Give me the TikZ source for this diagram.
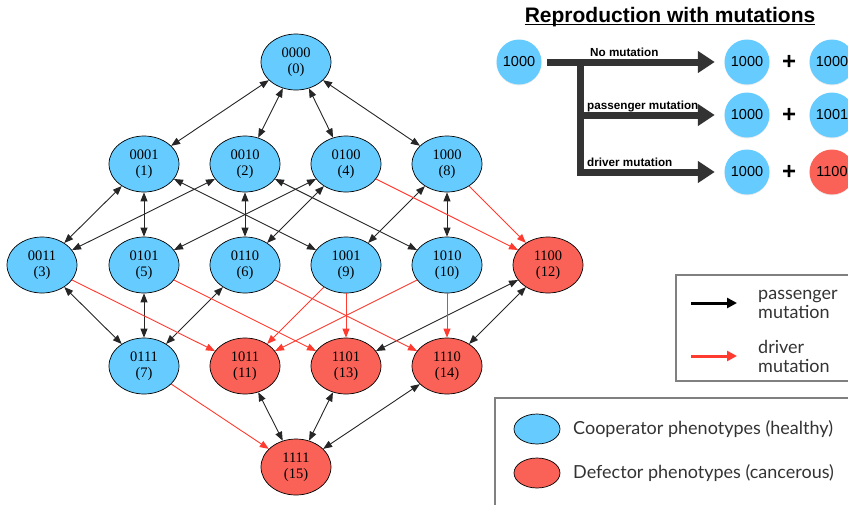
\documentclass[tikz,border=0pt]{standalone}
\usepackage{fontspec}
\setmainfont{Liberation Serif}
\newfontfamily\helv{Liberation Sans}
\newfontfamily\lato{Lato}
\usetikzlibrary{arrows.meta,shapes.geometric,shadows}
\definecolor{cblue}{HTML}{66CCFF}
\definecolor{cred}{HTML}{FA6157}
\definecolor{edgeblack}{HTML}{262626}
\definecolor{edgered}{HTML}{FF3B30}
\definecolor{bigarrowcol}{HTML}{333333}
\definecolor{boxgray}{HTML}{808080}
\definecolor{txtgray}{HTML}{333333}
\begin{document}
\begin{tikzpicture}[x=1pt,y=-1pt,
  gnode/.style={ellipse, draw=black, line width=0.7pt, minimum width=70pt, minimum height=56pt,
    inner sep=0pt, align=center, font=\fontsize{14.5}{16.5}\selectfont},
  coop/.style={gnode, fill=cblue},
  defe/.style={gnode, fill=cred},
  pas/.style={draw=edgeblack, line width=0.9pt, {Triangle[length=9pt,width=7pt]}-{Triangle[length=9pt,width=7pt]}},
  drv/.style={draw=edgered, line width=0.9pt, -{Triangle[length=9pt,width=7pt]}},
  cnode/.style={circle, minimum size=45pt, inner sep=0pt, font=\helv\fontsize{14.5}{16}\selectfont,
    drop shadow={opacity=0.15, shadow xshift=0pt, shadow yshift=-1pt}},
  cb/.style={cnode, fill=cblue},
  cr/.style={cnode, fill=cred},
  bigline/.style={draw=bigarrowcol, line width=7pt},
  bigarrow/.style={bigline, -{Triangle[length=17pt,width=21pt]}, shorten >=9.5pt},
  lbl/.style={inner sep=0pt, font=\helv\bfseries\fontsize{11.7}{13}\selectfont},
  plus/.style={inner sep=0pt, font=\helv\bfseries\fontsize{24}{24}\selectfont},
  legtxt/.style={inner sep=0pt, text=txtgray, font=\lato\fontsize{18}{19}\selectfont, align=left},
  legbox/.style={draw=boxgray, line width=1.2pt},
  legell/.style={ellipse, draw=black, line width=0.7pt, minimum width=46pt, minimum height=30pt, inner sep=0pt}
]
\useasboundingbox (0,0) rectangle (848,504);

% ---------- graph nodes ----------
\node[coop] (n0)  at (296,62)  {0000\\(0)};
\node[coop] (n1)  at (144,164) {0001\\(1)};
\node[coop] (n2)  at (245,164) {0010\\(2)};
\node[coop] (n4)  at (346,164) {0100\\(4)};
\node[coop] (n8)  at (447,164) {1000\\(8)};
\node[coop] (n3)  at (42,265)  {0011\\(3)};
\node[coop] (n5)  at (144,265) {0101\\(5)};
\node[coop] (n6)  at (245,265) {0110\\(6)};
\node[coop] (n9)  at (346,265) {1001\\(9)};
\node[coop] (n10) at (447,265) {1010\\(10)};
\node[defe] (n12) at (548,265) {1100\\(12)};
\node[coop] (n7)  at (144,366) {0111\\(7)};
\node[defe] (n11) at (245,366) {1011\\(11)};
\node[defe] (n13) at (346,366) {1101\\(13)};
\node[defe] (n14) at (447,366) {1110\\(14)};
\node[defe] (n15) at (296,467) {1111\\(15)};

% ---------- passenger edges ----------
\foreach \a/\b in {n0/n1,n0/n2,n0/n4,n0/n8,
                   n1/n3,n1/n5,n1/n9,n2/n3,n2/n6,n2/n10,
                   n4/n5,n4/n6,n8/n9,n8/n10,
                   n3/n7,n5/n7,n6/n7,n12/n13,n12/n14,
                   n11/n15,n13/n15,n14/n15}
  \draw[pas] (\a) -- (\b);
% ---------- driver edges ----------
\foreach \a/\b in {n4/n12,n8/n12,n3/n11,n5/n13,n6/n14,
                   n9/n11,n9/n13,n10/n11,n10/n14,n7/n15}
  \draw[drv] (\a) -- (\b);

% ---------- reproduction panel ----------
\node[inner sep=0pt, font=\helv\bfseries\fontsize{21}{22}\selectfont, anchor=base] (title) at (670,22) {Reproduction with mutations};
\draw[line width=1.2pt] ([yshift=-2.5pt]title.base west) -- ([yshift=-2.5pt]title.base east);

\node[cb] (src) at (519,62) {1000};
\node[cb] (r1a) at (747,62) {1000};
\node[plus] (p1) at (789,62) {+};
\node[cb] (r1b) at (832,62) {1000};
\node[cb] (r2a) at (747,115) {1000};
\node[plus] (p2) at (789,115) {+};
\node[cb] (r2b) at (832,115) {1001};
\node[cb] (r3a) at (747,172) {1000};
\node[plus] (p3) at (789,172) {+};
\node[cr] (r3b) at (832,172) {1100};

\coordinate (j1) at (580,62);
\coordinate (j2) at (580,115);
\draw[bigarrow] ([xshift=5.5pt]src.east) -- (r1a);
\draw[bigarrow] (j1) |- (r3a);
\draw[bigarrow] (j2) -- (r2a);

\node[lbl, anchor=base west] (l1) at (590,56) {No mutation};
\node[lbl, anchor=base west] (l2) at (587,109) {passenger mutation};
\node[lbl, anchor=base west] (l3) at (587,166) {driver mutation};

% ---------- legend 1 ----------
\draw[legbox] (676,275) rectangle (852,381);
\coordinate (pa1) at (691,303);
\coordinate (pa2) at (737,303);
\coordinate (da1) at (691,356);
\coordinate (da2) at (737,356);
\draw[draw=black, line width=3pt, -{Triangle[length=10pt,width=10pt]}] (pa1) -- (pa2);
\draw[draw=edgered, line width=3pt, -{Triangle[length=10pt,width=10pt]}] (da1) -- (da2);
\node[legtxt, anchor=west] (t1) at (758,304) {passenger\\mutation};
\node[legtxt, anchor=west] (t2) at (758,356) {driver\\mutation};

% ---------- legend 2 ----------
\draw[legbox] (495,398) rectangle (852,510);
\node[legell, fill=cblue] (e1) at (537,429) {};
\node[legell, fill=cred] (e2) at (537,473) {};
\node[legtxt, anchor=west] (t3) at (573,429) {Cooperator phenotypes (healthy)};
\node[legtxt, anchor=west] (t4) at (573,473) {Defector phenotypes (cancerous)};
\end{tikzpicture}
\end{document}
